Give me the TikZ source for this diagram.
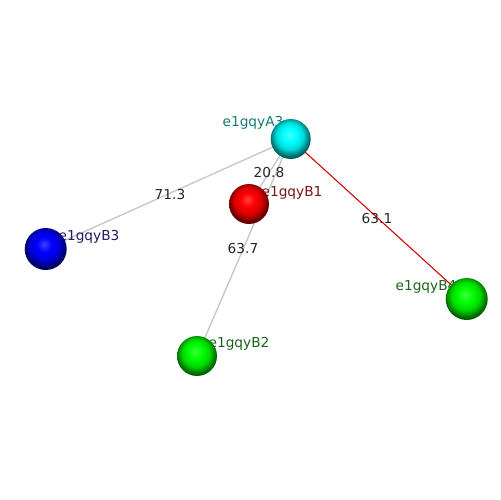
\documentclass[tikz,border=0pt]{standalone}
\usepackage{fontspec}
\setmainfont{DejaVu Sans}
\usetikzlibrary{positioning}
\definecolor{tealtxt}{RGB}{20,120,120}
\definecolor{redtxt}{RGB}{120,20,20}
\definecolor{navytxt}{RGB}{30,30,100}
\definecolor{greentxt}{RGB}{25,100,25}
\definecolor{bondgray}{RGB}{200,200,200}
\definecolor{bondred}{RGB}{215,0,0}
\colorlet{atomcol}{red}
\pgfdeclareradialshading[atomcol]{atomball}{\pgfqpoint{-2bp}{6bp}}{%
  color(0bp)=(atomcol!75!white); color(9bp)=(atomcol);
  color(17bp)=(atomcol!85!black); color(25bp)=(atomcol!40!black);
  color(50bp)=(black)}
\tikzset{
  atom/.style={circle,minimum size=0.8cm,inner sep=0pt,
    /utils/exec={\colorlet{atomcol}{#1}},shading=atomball},
  lbl/.style={font=\fontsize{7.8}{9}\selectfont,inner sep=0pt},
  dist/.style={font=\fontsize{7.8}{9}\selectfont,text=black!85,inner sep=0pt},
  bond/.style={line width=0.8pt,bondgray},
}
\begin{document}
\begin{tikzpicture}[x=0.02cm,y=-0.02cm]
\useasboundingbox (0,0) rectangle (500,500);
% atom centres
\coordinate (ca3) at (290.7,139);
\coordinate (cb1) at (249,204);
\coordinate (cb2) at (197,356);
\coordinate (cb3) at (45.7,249);
\coordinate (cb4) at (466.7,299);
% bonds
\draw[bond] (ca3)--(cb3);
\draw[bond] (ca3)--(cb2);
\draw[bond] (ca3)--(cb1);
\draw[line width=0.6pt,bondred] (ca3)--(cb4);
% distances
\node[dist] (d1) at (170,195) {71.3};
\node[dist] (d2) at (269,173) {20.8};
\node[dist] (d3) at (243,249) {63.7};
\node[dist] (d4) at (377,219) {63.1};
% names
\node[lbl,text=tealtxt] (la3) at (253,123) {e1gqyA3};
\node[lbl,text=redtxt] (lb1) at (292,193) {e1gqyB1};
\node[lbl,text=navytxt] (lb3) at (89,237) {e1gqyB3};
\node[lbl,text=greentxt] (lb2) at (239,344) {e1gqyB2};
\node[lbl,text=greentxt] (lb4) at (426,287) {e1gqyB4};
% spheres
\node[atom=cyan] (a3) at (ca3) {};
\node[atom=red] (b1) at (cb1) {};
\node[atom=green] (b2) at (cb2) {};
\node[atom=blue,minimum size=0.84cm] (b3) at (cb3) {};
\node[atom=green,minimum size=0.84cm] (b4) at (cb4) {};
\end{tikzpicture}
\end{document}
